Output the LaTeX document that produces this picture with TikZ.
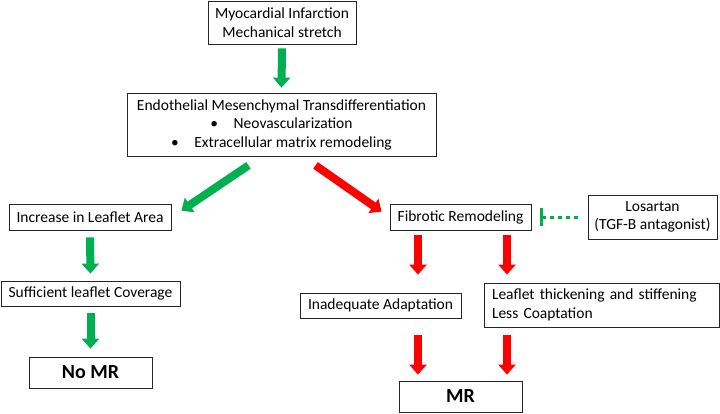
\documentclass[tikz,border=0pt]{standalone}
\usepackage{fontspec}
\setmainfont{Carlito}
\usetikzlibrary{arrows.meta}
\definecolor{ogreen}{RGB}{0,176,80}
\definecolor{ored}{RGB}{255,0,0}
\tikzset{
  box/.style={draw=black!85, line width=0.8pt, inner sep=0pt, align=center, font=\fontsize{15.5}{18.5}\selectfont},
  bigbox/.style={box, font=\fontsize{20}{24}\selectfont\bfseries},
  blockarrow/.style={line width=8pt, -{Triangle[width=17pt,length=10pt]}},
  garrow/.style={blockarrow, ogreen},
  rarrow/.style={blockarrow, ored},
}
\begin{document}
\begin{tikzpicture}[x=1pt,y=-1pt]
\useasboundingbox (0,0) rectangle (720,413);
\node[box, minimum width=148pt, minimum height=43pt] (mi) at (282,22.5) {Myocardial Infarction\\Mechanical stretch};
\node[box, minimum width=309pt, minimum height=63pt] (emt) at (281.5,124.5) {Endothelial Mesenchymal Transdifferentiation\\\textbullet\hspace{1em}Neovascularization\\\textbullet\hspace{1em}Extracellular matrix remodeling};
\node[box, minimum width=162pt, minimum height=26pt] (inc) at (90,217) {Increase in Leaflet Area};
\node[box, minimum width=179pt, minimum height=25pt] (suf) at (90.5,293.5) {Sufficient leaflet Coverage};
\node[bigbox, minimum width=123pt, minimum height=31pt] (nomr) at (90.5,372.5) {No MR};
\node[box, minimum width=141pt, minimum height=26pt] (fib) at (460.5,217) {Fibrotic Remodeling};
\node[box, minimum width=129pt, minimum height=44pt] (los) at (652.5,217) {Losartan\\(TGF-B antagonist)};
\node[box, minimum width=161pt, minimum height=25pt] (inad) at (380.5,305.5) {Inadequate Adaptation};
\node[box, minimum width=235pt, minimum height=44pt, align=left, text width=219pt] (thick) at (601.5,305) {Leaflet thickening and stiffening\\Less Coaptation};
\node[bigbox, minimum width=123pt, minimum height=31pt] (mr) at (460.5,396.5) {MR};

% arrows
\draw[garrow] ([yshift=-4pt]mi.south) -- ([yshift=5pt]emt.north);
\draw[garrow] ([xshift=-33pt,yshift=-9pt]emt.south) -- ([xshift=10pt,yshift=-7pt]inc.north east);
\draw[rarrow] ([xshift=34pt,yshift=-9pt]emt.south) -- ([xshift=-8pt,yshift=-8pt]fib.north west);
\draw[garrow] ([yshift=-7pt]inc.south) -- ([yshift=7pt]suf.north);
\draw[garrow] ([yshift=-7pt]suf.south) -- ([yshift=8pt]nomr.north);
\draw[rarrow] ([xshift=-42.5pt,yshift=-5pt]fib.south) -- ([xshift=37.5pt,yshift=18pt]inad.north);
\draw[rarrow] ([xshift=46.5pt,yshift=-5pt]fib.south) -- ([xshift=-94.5pt,yshift=8pt]thick.north);
\draw[rarrow] ([xshift=37.5pt,yshift=-17pt]inad.south) -- ([xshift=-42.5pt,yshift=6pt]mr.north);
\draw[rarrow] ([xshift=-94.5pt,yshift=-8pt]thick.south) -- ([xshift=46.5pt,yshift=6pt]mr.north);
% inhibition
\draw[ogreen, line width=3pt, dash pattern=on 4pt off 4pt] ([xshift=-10pt]los.west) -- ([xshift=10pt]fib.east);
\draw[ogreen, line width=3pt] ([xshift=10pt,yshift=-9pt]fib.east) -- ([xshift=10pt,yshift=9pt]fib.east);
\end{tikzpicture}
\end{document}
